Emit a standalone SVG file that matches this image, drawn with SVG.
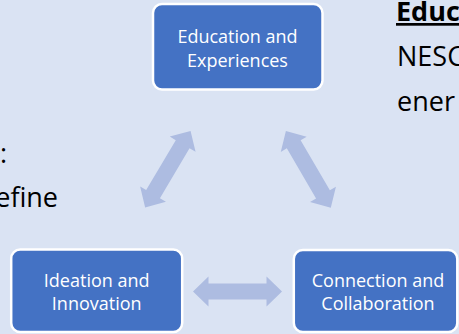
<svg xmlns="http://www.w3.org/2000/svg" width="459" height="334" viewBox="0 0 459 334">
<style>
.box{fill:#4472c4;stroke:#ffffff;stroke-width:2.5}
.lbl{font-family:"Open Sans","Liberation Sans",sans-serif;font-size:18px;fill:#ffffff;text-anchor:middle}
.arrow{fill:#adbce1}
.side{font-family:"Open Sans","Liberation Sans",sans-serif;font-size:27px;fill:#000000}
</style>
<defs>
<polygon id="dbl" points="-44.5,0 -29,-15 -29,-8 29,-8 29,-15 44.5,0 29,15 29,8 -29,8 -29,15"/>
</defs>
<rect width="459" height="334" fill="#dae3f3"/>
<g id="side-text">
<text class="side" x="396" y="21" font-weight="bold" text-decoration="underline">Educ</text>
<text class="side" x="397" y="66">NESC</text>
<text class="side" x="397" y="111">ener</text>
<text class="side" x="7" y="163" text-anchor="end">:</text>
<text class="side" x="58" y="207" text-anchor="end">efine</text>
</g>
<g id="connectors" class="arrow">
<use href="#dbl" transform="translate(167.85,169.15) rotate(-59.3)"/>
<use href="#dbl" transform="translate(308.35,169.35) rotate(59.7)"/>
<use href="#dbl" transform="translate(237.5,291.5)"/>
</g>
<g id="node-education">
<rect class="box" x="153" y="4" width="169.5" height="85.5" rx="9"/>
<text class="lbl" x="237.5" y="43.3">Education and</text>
<text class="lbl" x="237.5" y="66.5">Experiences</text>
</g>
<g id="node-ideation">
<rect class="box" x="11.2" y="249.5" width="171" height="82.5" rx="9"/>
<text class="lbl" x="96.7" y="287">Ideation and</text>
<text class="lbl" x="96.7" y="310">Innovation</text>
</g>
<g id="node-connection">
<rect class="box" x="293.8" y="250" width="163.5" height="82" rx="9"/>
<text class="lbl" x="378" y="287">Connection and</text>
<text class="lbl" x="378" y="310">Collaboration</text>
</g>
</svg>
